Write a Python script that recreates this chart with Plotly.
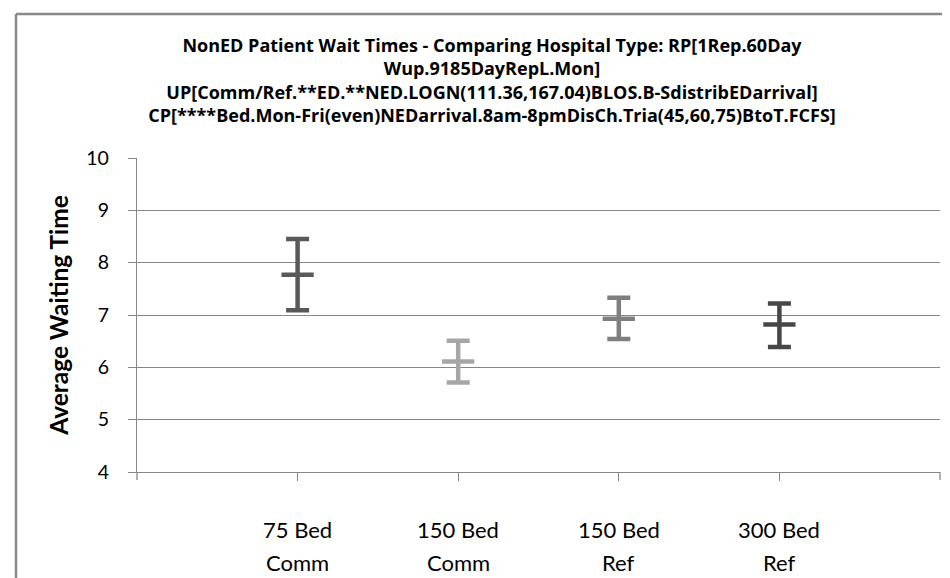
import plotly.graph_objects as go

categories = ["75 Bed Comm", "150 Bed Comm", "150 Bed Ref", "300 Bed Ref"]
label_line1 = ["75 Bed", "150 Bed", "150 Bed", "300 Bed"]
label_line2 = ["Comm", "Comm", "Ref", "Ref"]
low_values = [7.09, 5.71, 6.54, 6.39]
mid_values = [7.77, 6.11, 6.93, 6.82]
high_values = [8.45, 6.51, 7.33, 7.22]
bar_colors = ["#595959", "#a6a6a6", "#7f7f7f", "#474747"]

title_lines = ["NonED Patient Wait Times - Comparing Hospital Type: RP[1Rep.60Day",
               "Wup.9185DayRepL.Mon]",
               "UP[Comm/Ref.**ED.**NED.LOGN(111.36,167.04)BLOS.B-SdistribEDarrival]",
               "CP[****Bed.Mon-Fri(even)NEDarrival.8am-8pmDisCh.Tria(45,60,75)BtoT.FCFS]"]
y_title = "Average Waiting Time"

FONT = "Lato, 'Open Sans', sans-serif"
TITLE_FONT = "'Open Sans', Lato, sans-serif"
GRID = "#878787"

fig = go.Figure()
for cat, lo, mid, hi, col in zip(categories, low_values, mid_values, high_values, bar_colors):
    fig.add_trace(go.Scatter(
        x=[cat], y=[mid], mode="markers",
        marker=dict(symbol="line-ew", size=23, color=col, line=dict(color=col, width=4.5)),
        error_y=dict(type="data", symmetric=False, array=[hi - mid], arrayminus=[mid - lo],
                     color=col, thickness=4.5, width=11.5),
        showlegend=False, hoverinfo="skip"))

annotations = []
for cat, l1, l2 in zip(categories, label_line1, label_line2):
    annotations.append(dict(x=cat, xref="x", y=(464 - 521) / 314, yref="paper", text=l1,
                            showarrow=False, xanchor="center", yanchor="middle",
                            font=dict(family=FONT, size=22, color="black")))
    annotations.append(dict(x=cat, xref="x", y=(464 - 554) / 314, yref="paper", text=l2,
                            showarrow=False, xanchor="center", yanchor="middle",
                            font=dict(family=FONT, size=22, color="black")))

fig.update_layout(
    width=950, height=578,
    margin=dict(l=129, r=18, t=150, b=114),
    paper_bgcolor="white", plot_bgcolor="white",
    font=dict(family=FONT, color="black"),
    title=dict(text="<br>".join(title_lines), x=484 / 950, xanchor="center",
               y=1 - 44 / 578, yanchor="top",
               font=dict(family=TITLE_FONT, size=18, color="black", weight="bold")),
    xaxis=dict(type="category", categoryorder="array", categoryarray=categories,
               range=[-1, 4], showticklabels=False,
               showgrid=False, showline=True, linecolor=GRID, linewidth=1.3,
               ticks="outside", ticklen=8, tickcolor=GRID, tickwidth=1.3, zeroline=False),
    yaxis=dict(range=[4, 10], dtick=1, tick0=4, showgrid=True, gridcolor=GRID, gridwidth=1.3,
               showline=True, linecolor=GRID, linewidth=1.3,
               ticks="outside", ticklen=8, tickcolor=GRID, tickwidth=1.3,
               ticklabelstandoff=15, tickfont=dict(size=19.5), zeroline=False,
               title=dict(text=y_title, standoff=10,
                          font=dict(size=24.5, weight="bold"))),
    annotations=annotations,
    shapes=[
        dict(type="line", xref="paper", yref="paper", x0=1, x1=1, y0=0, y1=-8 / 314,
             line=dict(color=GRID, width=1.3)),
        dict(type="line", xref="paper", yref="paper", x0=0, x1=0, y0=0, y1=-8 / 314,
             line=dict(color=GRID, width=1.3)),
        dict(type="line", xref="paper", yref="paper", x0=(8 - 129) / 803, x1=(8 - 129) / 803,
             y0=(464 - 6) / 314, y1=(464 - 590) / 314, line=dict(color="#898989", width=2.5)),
        dict(type="line", xref="paper", yref="paper", x0=(8 - 129) / 803, x1=(960 - 129) / 803,
             y0=(464 - 6) / 314, y1=(464 - 6) / 314, line=dict(color="#898989", width=2.5)),
    ],
)

fig.write_html("out.html")
